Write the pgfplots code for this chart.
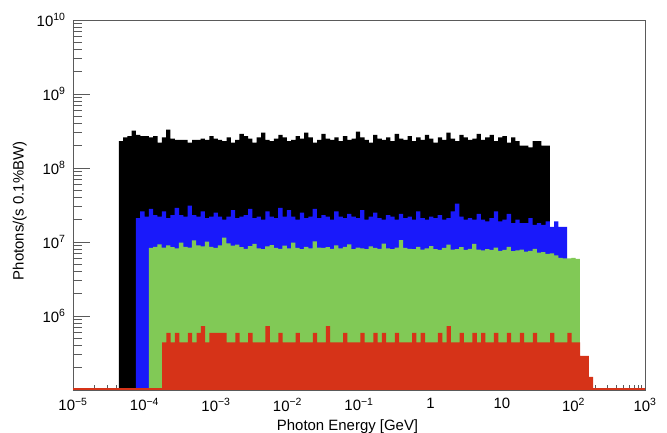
\documentclass[border=0pt]{standalone}
\usepackage{pgfplots}
\pgfplotsset{compat=1.18}
\usepackage{fontspec}
\setmainfont{Liberation Sans}

\definecolor{hblue}{RGB}{25,25,250}
\definecolor{hgreen}{RGB}{129,201,86}
\definecolor{hred}{RGB}{214,51,24}
\definecolor{frame}{RGB}{90,90,90}

\newcommand{\tenp}[1]{10\textsuperscript{#1}}

\begin{document}
\begin{tikzpicture}
\useasboundingbox (-73bp,-43bp) rectangle (594bp,390bp);
\begin{axis}[
  at={(0,0)}, anchor=south west,
  scale only axis, width=572bp, height=370bp,
  xmode=log, ymode=log,
  xmin=1e-5, xmax=1e3, ymin=1e5, ymax=1e10,
  xtick={1e-5,1e-4,1e-3,1e-2,1e-1,1,10,100,1000},
  xticklabels={\tenp{−5},\tenp{−4},\tenp{−3},\tenp{−2},\tenp{−1},1,10,\tenp{2},\tenp{3}},
  ytick={1e5,1e6,1e7,1e8,1e9,1e10},
  yticklabels={,\tenp{6},\tenp{7},\tenp{8},\tenp{9},\tenp{10}},
  tick align=inside, xtick pos=bottom, ytick pos=left,
  major tick length=17bp, minor tick length=9bp,
  axis on top=false,
  xtick style={frame, line width=0.7bp, /pgfplots/major tick length=11bp, /pgfplots/minor tick length=5.5bp},
  ytick style={frame, line width=0.7bp},
  axis line style={frame, line width=0.7bp},
  tick label style={font=\fontsize{15}{18}\selectfont},
  xticklabel style={yshift=-5bp},
  yticklabel style={xshift=-4bp},
  label style={font=\fontsize{15}{18}\selectfont},
  xlabel={Photon Energy [GeV]},
  ylabel={Photons/(s 0.1\%BW)},
  xlabel style={at={(axis description cs:0.48,0)}, anchor=north, inner sep=0pt, yshift=-29bp},
  ylabel style={at={(axis description cs:-0.093,0.484)}, anchor=center, inner sep=0pt},
  clip=true,
]

% black histogram, 100 log bins of 0.0603 decades from 10^-4.36 GeV
\addplot[const plot mark left, fill=black, draw=none]
  table[header=false, row sep=\\, y index=0, x expr={10^(-4.36+0.0603*\coordindex)}]{
  2.3e8\\ 2.6e8\\ 2.7e8\\ 3.2e8\\ 2.8e8\\ 2.7e8\\ 2.7e8\\ 2.6e8\\ 2.7e8\\ 2.2e8\\
  2.6e8\\ 3.3e8\\ 2.5e8\\ 2.4e8\\ 2.4e8\\ 2.4e8\\ 2.2e8\\ 2.4e8\\ 2.4e8\\ 2.5e8\\
  2.4e8\\ 2.7e8\\ 2.5e8\\ 2.4e8\\ 2.3e8\\ 2.6e8\\ 2.2e8\\ 2.4e8\\ 2.9e8\\ 2.7e8\\
  2.5e8\\ 2.2e8\\ 2.6e8\\ 3.0e8\\ 2.4e8\\ 2.3e8\\ 2.5e8\\ 2.8e8\\ 2.6e8\\ 2.3e8\\
  2.4e8\\ 2.7e8\\ 2.5e8\\ 3.0e8\\ 2.6e8\\ 2.2e8\\ 2.4e8\\ 2.9e8\\ 2.5e8\\ 2.4e8\\
  2.6e8\\ 2.3e8\\ 2.7e8\\ 2.4e8\\ 2.5e8\\ 3.1e8\\ 2.6e8\\ 2.4e8\\ 2.2e8\\ 2.8e8\\
  2.5e8\\ 2.4e8\\ 2.6e8\\ 2.3e8\\ 2.9e8\\ 2.5e8\\ 2.4e8\\ 2.7e8\\ 2.3e8\\ 2.6e8\\
  2.4e8\\ 2.8e8\\ 2.5e8\\ 2.2e8\\ 2.6e8\\ 2.4e8\\ 3.0e8\\ 2.5e8\\ 2.3e8\\ 2.8e8\\
  2.6e8\\ 2.4e8\\ 2.5e8\\ 2.9e8\\ 2.4e8\\ 2.6e8\\ 2.8e8\\ 2.3e8\\ 2.6e8\\ 2.7e8\\
  2.2e8\\ 2.6e8\\ 2.3e8\\ 2.0e8\\ 2.0e8\\ 1.9e8\\ 2.3e8\\ 2.3e8\\ 2.0e8\\ 2.0e8\\
  2.0e8\\
} \closedcycle;

% blue histogram
\addplot[const plot mark left, fill=hblue, draw=none]
  table[header=false, row sep=\\, y index=0, x expr={10^(-4.12+0.0603*\coordindex)}]{
  2.1e7\\ 2.6e7\\ 2.2e7\\ 2.8e7\\ 2.3e7\\ 2.2e7\\ 2.6e7\\ 2.1e7\\ 2.3e7\\ 2.9e7\\
  2.3e7\\ 2.2e7\\ 3.1e7\\ 2.3e7\\ 2.2e7\\ 2.6e7\\ 2.1e7\\ 2.2e7\\ 2.5e7\\ 2.2e7\\
  2.0e7\\ 2.2e7\\ 2.7e7\\ 2.1e7\\ 2.2e7\\ 2.3e7\\ 2.8e7\\ 2.1e7\\ 2.2e7\\ 2.0e7\\
  2.6e7\\ 2.2e7\\ 2.1e7\\ 2.9e7\\ 2.2e7\\ 2.7e7\\ 2.2e7\\ 2.0e7\\ 2.5e7\\ 2.1e7\\
  2.2e7\\ 2.8e7\\ 2.1e7\\ 2.3e7\\ 2.2e7\\ 2.0e7\\ 2.6e7\\ 2.2e7\\ 2.1e7\\ 2.4e7\\
  2.2e7\\ 2.1e7\\ 2.7e7\\ 2.0e7\\ 2.2e7\\ 2.5e7\\ 2.1e7\\ 2.0e7\\ 2.3e7\\ 2.2e7\\
  2.0e7\\ 2.4e7\\ 2.1e7\\ 2.2e7\\ 2.0e7\\ 2.6e7\\ 2.1e7\\ 2.0e7\\ 2.2e7\\ 2.1e7\\
  2.3e7\\ 2.0e7\\ 2.1e7\\ 2.6e7\\ 3.3e7\\ 2.2e7\\ 2.0e7\\ 2.1e7\\ 2.0e7\\ 2.4e7\\
  2.0e7\\ 1.9e7\\ 2.1e7\\ 2.6e7\\ 1.9e7\\ 2.0e7\\ 2.4e7\\ 1.8e7\\ 2.0e7\\ 1.8e7\\
  1.8e7\\ 2.1e7\\ 1.7e7\\ 1.8e7\\ 1.7e7\\ 1.9e7\\ 1.6e7\\ 1.9e7\\ 1.6e7\\ 1.6e7\\
  1.6e7\\
} \closedcycle;

% green histogram
\addplot[const plot mark left, fill=hgreen, draw=none]
  table[header=false, row sep=\\, y index=0, x expr={10^(-3.94+0.0603*\coordindex)}]{
  8.3e6\\ 8.6e6\\ 9.3e6\\ 8.4e6\\ 9.0e6\\ 8.5e6\\ 8.2e6\\ 9.8e6\\ 8.6e6\\ 8.4e6\\
  10.5e6\\ 9.0e6\\ 8.7e6\\ 10.1e6\\ 8.6e6\\ 8.3e6\\ 9.0e6\\ 11.5e6\\ 9.6e6\\ 8.9e6\\
  9.2e6\\ 8.5e6\\ 8.1e6\\ 8.8e6\\ 9.4e6\\ 8.2e6\\ 8.0e6\\ 8.7e6\\ 9.1e6\\ 8.3e6\\
  8.1e6\\ 8.9e6\\ 8.2e6\\ 9.8e6\\ 8.3e6\\ 8.0e6\\ 8.6e6\\ 8.2e6\\ 10.2e6\\ 8.4e6\\
  8.3e6\\ 8.5e6\\ 8.1e6\\ 9.0e6\\ 8.2e6\\ 8.6e6\\ 9.3e6\\ 8.0e6\\ 8.4e6\\ 8.2e6\\
  8.0e6\\ 8.7e6\\ 8.3e6\\ 8.1e6\\ 9.5e6\\ 8.2e6\\ 8.0e6\\ 8.4e6\\ 10.6e6\\ 8.3e6\\
  8.1e6\\ 8.0e6\\ 8.6e6\\ 7.9e6\\ 8.2e6\\ 8.8e6\\ 8.0e6\\ 7.8e6\\ 8.3e6\\ 9.2e6\\
  7.9e6\\ 8.0e6\\ 8.5e6\\ 7.8e6\\ 8.1e6\\ 9.4e6\\ 7.9e6\\ 7.7e6\\ 8.0e6\\ 7.8e6\\
  8.4e6\\ 7.6e6\\ 7.8e6\\ 8.6e6\\ 7.5e6\\ 7.7e6\\ 7.9e6\\ 7.4e6\\ 7.6e6\\ 8.1e6\\
  7.2e6\\ 7.3e6\\ 6.9e6\\ 7.0e6\\ 6.6e6\\ 6.1e6\\ 6.0e6\\ 6.0e6\\ 6.1e6\\ 5.9e6\\
  5.9e6\\
} \closedcycle;

% red histogram
\addplot[const plot mark left, fill=hred, draw=none]
  table[header=false, row sep=\\, y index=0, x expr={10^(-3.755+0.0603*\coordindex)}]{
  4.4e5\\ 5.9e5\\ 4.4e5\\ 5.9e5\\ 4.4e5\\ 4.4e5\\ 5.9e5\\ 4.4e5\\ 5.9e5\\ 7.3e5\\
  4.4e5\\ 5.9e5\\ 5.9e5\\ 5.9e5\\ 5.9e5\\ 4.4e5\\ 4.4e5\\ 5.9e5\\ 4.4e5\\ 4.4e5\\
  5.9e5\\ 4.4e5\\ 4.4e5\\ 4.4e5\\ 7.3e5\\ 4.4e5\\ 4.4e5\\ 5.9e5\\ 4.4e5\\ 4.4e5\\
  4.4e5\\ 5.9e5\\ 4.4e5\\ 4.4e5\\ 4.4e5\\ 5.9e5\\ 4.4e5\\ 4.4e5\\ 7.3e5\\ 4.4e5\\
  4.4e5\\ 4.4e5\\ 5.9e5\\ 4.4e5\\ 4.4e5\\ 4.4e5\\ 5.9e5\\ 4.4e5\\ 4.4e5\\ 5.9e5\\
  4.4e5\\ 5.9e5\\ 4.4e5\\ 4.4e5\\ 5.9e5\\ 4.4e5\\ 4.4e5\\ 4.4e5\\ 5.9e5\\ 4.4e5\\
  5.9e5\\ 4.4e5\\ 4.4e5\\ 4.4e5\\ 5.9e5\\ 4.4e5\\ 7.3e5\\ 4.4e5\\ 4.4e5\\ 5.9e5\\
  4.4e5\\ 4.4e5\\ 5.9e5\\ 4.4e5\\ 5.9e5\\ 4.4e5\\ 4.4e5\\ 5.9e5\\ 4.4e5\\ 4.4e5\\
  5.9e5\\ 4.4e5\\ 4.4e5\\ 5.9e5\\ 4.4e5\\ 4.4e5\\ 5.9e5\\ 4.4e5\\ 4.4e5\\ 4.4e5\\
  5.9e5\\ 4.4e5\\ 4.4e5\\ 4.4e5\\ 5.9e5\\ 4.4e5\\ 4.4e5\\ 2.9e5\\ 2.9e5\\ 1.5e5\\
  1.5e5\\
} \closedcycle;

% empty bins of the red histogram along the lower edge
\addplot[hred, line width=4bp] coordinates {(1e-5,1e5) (1e3,1e5)};
\end{axis}
\end{tikzpicture}
\end{document}
